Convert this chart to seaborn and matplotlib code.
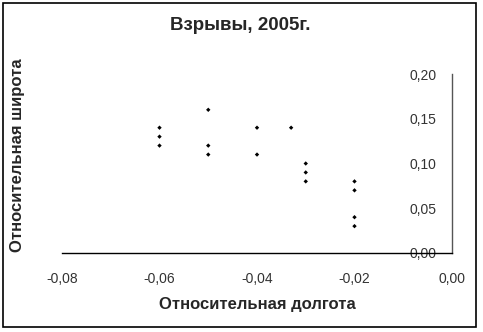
import numpy as np
import pandas as pd
import matplotlib
matplotlib.use("Agg")
import matplotlib.pyplot as plt
from matplotlib.patches import Rectangle
from matplotlib.ticker import FuncFormatter
import seaborn as sns

# ── Data ─────────────────────────────────────────────────────────────────────
lon = [-0.06, -0.06, -0.06,
       -0.05, -0.05, -0.05,
       -0.04, -0.04,
       -0.033,
       -0.03, -0.03, -0.03,
       -0.02, -0.02, -0.02, -0.02]
lat = [0.14, 0.13, 0.12,
       0.16, 0.12, 0.11,
       0.14, 0.11,
       0.14,
       0.10, 0.09, 0.08,
       0.08, 0.07, 0.04, 0.03]

x_ticks = [-0.08, -0.06, -0.04, -0.02, 0.00]
y_ticks = [0.00, 0.05, 0.10, 0.15, 0.20]

df = pd.DataFrame({"lon": lon, "lat": lat})

sns.set_style("white")
plt.rcParams["font.family"] = ["Liberation Sans", "DejaVu Sans"]

fig = plt.figure(figsize=(4.83, 3.32), dpi=100)
ax = fig.add_axes([62 / 483, 1 - 253 / 332, 390 / 483, 179 / 332])

sns.scatterplot(data=df, x="lon", y="lat", ax=ax, marker="D", s=5,
                color="black", edgecolor="none", legend=False)

ax.set_xlim(-0.08, 0.0)
ax.set_ylim(0.0, 0.2)
ax.set_xticks(x_ticks)
ax.set_yticks(y_ticks)
comma = FuncFormatter(lambda v, _: f"{v:.2f}".replace(".", ","))
ax.xaxis.set_major_formatter(comma)
ax.yaxis.set_major_formatter(comma)

# Excel-like axes: y axis crosses at x = 0, x axis at y = 0
ax.spines["left"].set_position(("data", 0))
ax.spines["right"].set_visible(False)
ax.spines["top"].set_visible(False)
ax.spines["left"].set_color("#555555")
ax.spines["bottom"].set_color("black")
for s in ("left", "bottom"):
    ax.spines[s].set_linewidth(1.0)
ax.tick_params(axis="y", direction="out", length=5, width=1, color="#555555",
               labelsize=10, labelcolor="#333333", pad=6)
ax.tick_params(axis="x", direction="in", length=5, width=1, color="black",
               labelsize=10, labelcolor="#333333", pad=14)
ax.set_xlabel("")
ax.set_ylabel("")

fig.text(240 / 483, 1 - 26 / 332, "Взрывы, 2005г.", ha="center", va="center",
         fontsize=13.5, fontweight="bold")
fig.text(257 / 483, 1 - 305 / 332, "Относительная долгота", ha="center",
         va="center", fontsize=12, fontweight="bold")
fig.text(18 / 483, 1 - 155 / 332, "Относительная широта", ha="center",
         va="center", rotation=90, fontsize=12, fontweight="bold")

fig.patches.append(Rectangle((3 / 483, 1 - 327 / 332), 473 / 483, 324 / 332,
                             transform=fig.transFigure, fill=False,
                             edgecolor="black", linewidth=1.2))

fig.savefig("out.png", dpi=100)
